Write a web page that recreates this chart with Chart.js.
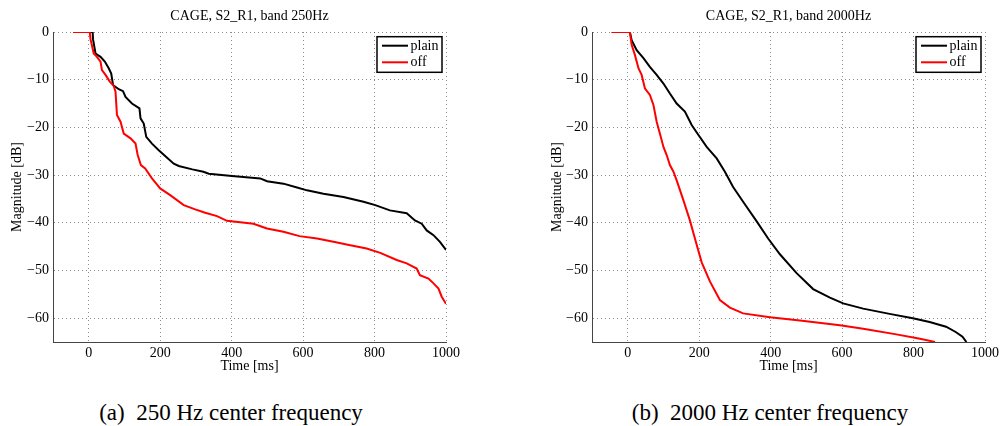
<!DOCTYPE html>
<html>
<head>
<meta charset="utf-8">
<script src="https://cdn.jsdelivr.net/npm/chart.js@4/dist/chart.umd.min.js"></script>
<style>
  body { margin: 0; background: #fff; width: 1001px; height: 426px; position: relative; overflow: hidden; }
  canvas { position: absolute; top: 0; }
  .cap { position: absolute; top: 401px; font: 23px/23px "Liberation Serif", serif; white-space: pre; transform: translateX(-50%); color: #000; }
</style>
</head>
<body>
<canvas id="left" width="470" height="385" style="left:0px"></canvas>
<canvas id="right" width="470" height="385" style="left:540px"></canvas>
<div class="cap" style="left:231px">(a)  250 Hz center frequency</div>
<div class="cap" style="left:770px">(b)  2000 Hz center frequency</div>
<script>
const seriesNames = ['plain', 'off'];
const xTicks = [0, 200, 400, 600, 800, 1000];
const yTicks = [0, -10, -20, -30, -40, -50, -60];

// band 250Hz
const plain250T = [-44, 11, 12, 19, 33, 45, 56, 63, 68, 84, 96, 103, 121, 142, 145, 154, 161, 177, 196, 217, 238, 252, 290, 321, 336, 401, 480, 499, 545, 583, 611, 657, 713, 769, 802, 843, 890, 913, 932, 946, 965, 983, 1000];
const plain250Db = [0, 0, -1.5, -4.5, -5.2, -6.2, -7.6, -8.7, -11.1, -12, -12.4, -13.6, -15, -16, -18.1, -19.2, -22, -23.4, -24.8, -26.2, -27.6, -28.1, -28.8, -29.3, -29.7, -30.2, -30.7, -31.3, -31.8, -32.6, -33.2, -33.9, -34.6, -35.6, -36.3, -37.4, -38, -39.5, -40.2, -41.6, -42.6, -44, -45.7];
const off250T = [-44, 3, 5, 14, 23, 33, 37, 47, 59, 70, 75, 79, 89, 98, 117, 131, 137, 146, 158, 177, 200, 228, 266, 298, 326, 359, 387, 461, 499, 545, 590, 639, 685, 732, 778, 816, 862, 890, 918, 927, 951, 965, 979, 988, 1000];
const off250Db = [0, 0, -1.5, -4.5, -5.2, -6.2, -8, -9, -10.4, -11.3, -12.5, -17.4, -18.8, -21.3, -22.3, -23.4, -25.8, -27.9, -28.6, -30.7, -32.8, -34.2, -36.3, -37.2, -37.9, -38.6, -39.6, -40.2, -41.2, -41.9, -42.8, -43.3, -44, -44.7, -45.4, -46.3, -47.8, -48.5, -49.6, -51, -51.7, -52.7, -53.8, -55.5, -57];

// band 2000Hz
const plain2kT = [-45, 6, 11, 25, 44, 62, 81, 100, 118, 137, 160, 179, 198, 221, 249, 272, 295, 323, 361, 393, 426, 472, 519, 566, 603, 659, 733, 798, 845, 891, 918, 937, 948];
const plain2kDb = [0, 0, -1.7, -3.8, -5.5, -7.3, -9, -10.8, -12.9, -15, -16.7, -19.5, -21.6, -24.1, -26.5, -29.3, -32.5, -35.6, -39.7, -43.3, -46.6, -50.5, -53.9, -55.7, -56.9, -58, -59.1, -60, -60.8, -61.8, -62.9, -63.9, -65];
const off2kT = [-45, 6, 11, 20, 30, 39, 48, 62, 72, 81, 90, 100, 109, 118, 128, 137, 155, 174, 193, 207, 230, 258, 286, 323, 398, 482, 594, 659, 752, 818, 860];
const off2kDb = [0, 0, -2.7, -4.8, -7.6, -9, -11.8, -13.2, -15.3, -18.8, -21.3, -24.1, -25.8, -27.9, -29.3, -31.1, -35.1, -39.5, -44.6, -48.3, -52.3, -56.2, -57.8, -59, -59.8, -60.5, -61.5, -62.2, -63.4, -64.3, -65];

const seriesColors = ['#000000', '#ff0000'];
const serif = '"Liberation Serif", "Times New Roman", serif';

const toPoints = (t, db) => t.map((x, i) => ({ x: x, y: db[i] }));
const minus = (v) => String(v).replace('-', '\u2212');

// legend box drawn inside the plot, top right, like the MATLAB one
const boxLegend = {
  id: 'boxLegend',
  afterDraw(chart) {
    const { ctx, chartArea } = chart;
    const w = 65, h = 35.6;
    const x0 = chartArea.right - 4 - w;
    const y0 = chartArea.top + 4.7;
    ctx.save();
    ctx.fillStyle = '#fff';
    ctx.fillRect(x0, y0, w, h);
    ctx.strokeStyle = '#000';
    ctx.lineWidth = 1.5;
    ctx.strokeRect(x0, y0, w, h);
    ctx.font = '14px ' + serif;
    ctx.textBaseline = 'middle';
    chart.data.datasets.forEach((ds, i) => {
      const y = y0 + 9 + i * 16.6;
      ctx.strokeStyle = ds.borderColor;
      ctx.lineWidth = 2;
      ctx.beginPath();
      ctx.moveTo(x0 + 5, y);
      ctx.lineTo(x0 + 31, y);
      ctx.stroke();
      ctx.fillStyle = '#000';
      ctx.fillText(ds.label, x0 + 33.5, y + 0.5);
    });
    ctx.restore();
  }
};

function makeChart(id, title, series, yWidth) {
  new Chart(document.getElementById(id), {
    type: 'line',
    data: {
      datasets: series.map((s, i) => ({
        label: seriesNames[i],
        data: toPoints(s[0], s[1]),
        borderColor: seriesColors[i],
        borderWidth: 2,
        pointRadius: 0,
        tension: 0,
        fill: false,
        order: series.length - i
      }))
    },
    options: {
      responsive: false,
      animation: false,
      events: [],
      layout: { padding: { left: 0, right: 470 - 446 + (yWidth === 52 ? 1 : 0), top: 0, bottom: 0 } },
      plugins: {
        legend: { display: false },
        tooltip: { enabled: false },
        title: {
          display: true,
          text: title,
          fullSize: false,
          color: '#000',
          font: { family: serif, size: 14, weight: 'normal', lineHeight: 1.2 },
          padding: { top: 7.6, bottom: 7.6 }
        }
      },
      scales: {
        x: {
          type: 'linear',
          min: -100,
          max: 1000,
          afterBuildTicks: (s) => { s.ticks = xTicks.map(v => ({ value: v })); },
          afterFit: (s) => { s.height = 43; },
          ticks: { color: '#000', font: { family: serif, size: 14 }, padding: 3, maxRotation: 0, callback: (v) => minus(v) },
          grid: { color: 'rgba(0,0,0,0.45)', drawTicks: false, lineWidth: 1 },
          border: { color: '#444', width: 1, dash: [1, 3] },
          title: { display: true, text: 'Time [ms]', color: '#000', font: { family: serif, size: 14, lineHeight: 1.2 }, padding: { top: 0, bottom: 10.6 } }
        },
        y: {
          type: 'linear',
          min: -65,
          max: 0,
          afterBuildTicks: (s) => { s.ticks = yTicks.map(v => ({ value: v })); },
          afterFit: (s) => { s.width = yWidth; },
          ticks: { color: '#000', font: { family: serif, size: 14 }, padding: 4, callback: (v) => minus(v) },
          grid: { color: 'rgba(0,0,0,0.45)', drawTicks: false, lineWidth: 1 },
          border: { color: '#444', width: 1, dash: [1, 3] },
          title: { display: true, text: 'Magnitude [dB]', color: '#000', font: { family: serif, size: 14, lineHeight: 1.2 }, padding: { top: 9.1, bottom: 0 } }
        }
      }
    },
    plugins: [boxLegend]
  });
}

makeChart('left', 'CAGE, S2_R1, band 250Hz', [[plain250T, plain250Db], [off250T, off250Db]], 53);
makeChart('right', 'CAGE, S2_R1, band 2000Hz', [[plain2kT, plain2kDb], [off2kT, off2kDb]], 52);
</script>
</body>
</html>
